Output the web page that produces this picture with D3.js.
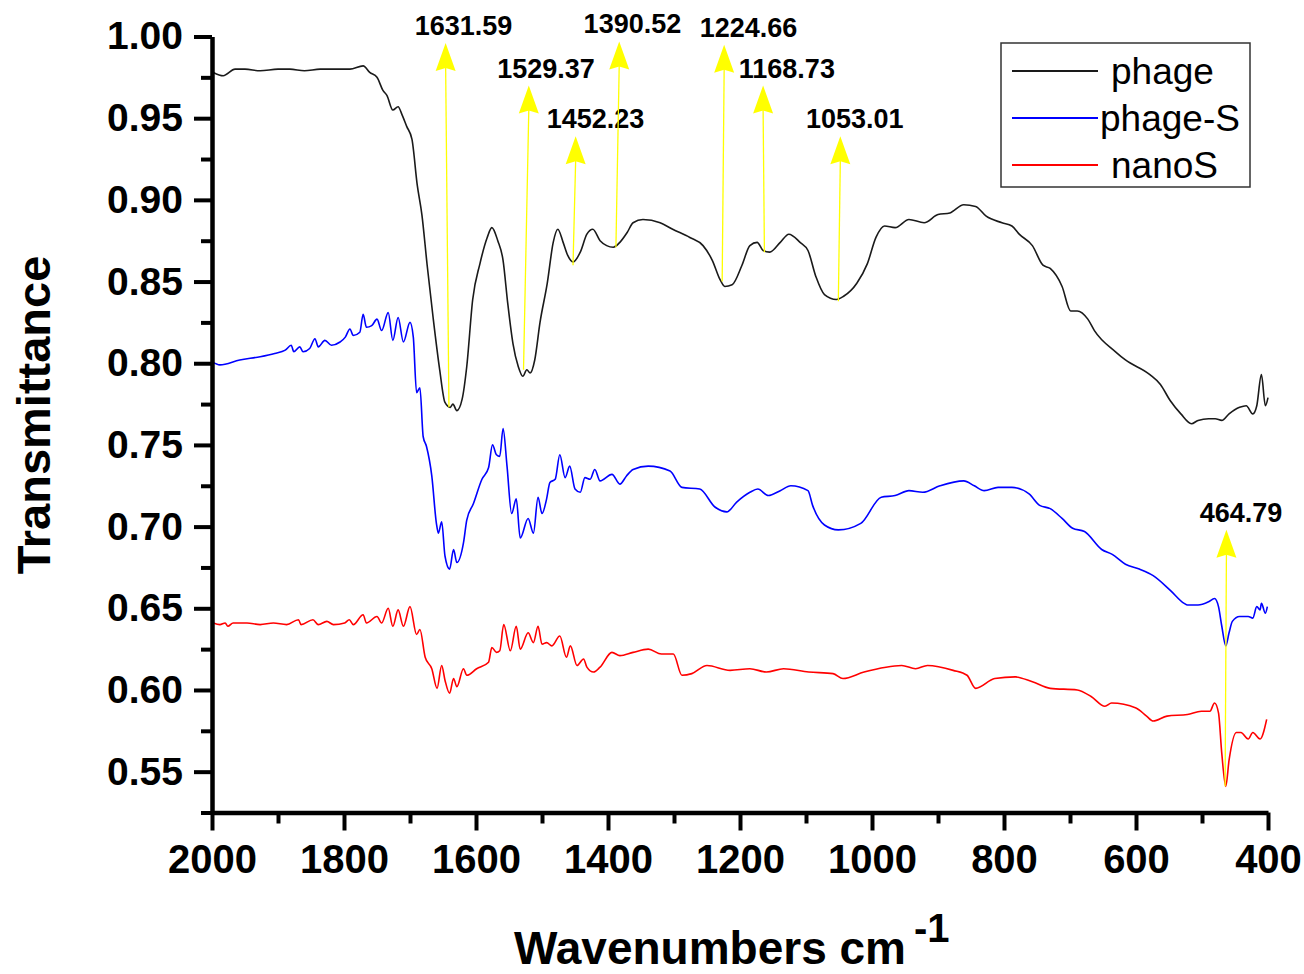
<!DOCTYPE html>
<html>
<head>
<meta charset="utf-8">
<title>FTIR spectra</title>
<style>
body { margin: 0; background: #fff; }
text { font-family: Arial, "Liberation Sans", sans-serif; }
path.curve { fill: none; stroke-width: 1.6px; }
.axis path, .axis line { stroke: #000; }
</style>
</head>
<body>
<script src="https://cdn.jsdelivr.net/npm/d3@7"></script>
<script>

// wavenumber (cm-1), transmittance
var phage = [[1998,0.978],[1983,0.976],[1965,0.980],[1950,0.980],[1927,0.979],[1900,0.980],[1882,0.980],[1860,0.979],[1836,0.980],[1810,0.980],[1791,0.980],[1771,0.982],[1761,0.978],[1750,0.975],[1741,0.967],[1735,0.964],[1726,0.955],[1718,0.957],[1712,0.952],[1705,0.945],[1697,0.937],[1689,0.909],[1682,0.891],[1674,0.860],[1665,0.828],[1655,0.796],[1647,0.776],[1639,0.773],[1635,0.775],[1629,0.771],[1621,0.778],[1614,0.798],[1605,0.839],[1594,0.861],[1583,0.877],[1576,0.883],[1567,0.875],[1559,0.863],[1552,0.837],[1544,0.812],[1536,0.798],[1529,0.792],[1523,0.796],[1518,0.794],[1511,0.802],[1503,0.825],[1492,0.849],[1483,0.874],[1476,0.882],[1468,0.874],[1461,0.866],[1453,0.862],[1442,0.868],[1432,0.879],[1423,0.882],[1412,0.875],[1402,0.872],[1392,0.871],[1382,0.874],[1371,0.880],[1362,0.886],[1347,0.888],[1321,0.886],[1302,0.882],[1276,0.877],[1256,0.872],[1242,0.863],[1230,0.851],[1223,0.847],[1212,0.848],[1197,0.860],[1185,0.872],[1174,0.874],[1165,0.869],[1155,0.868],[1139,0.874],[1126,0.879],[1109,0.874],[1097,0.869],[1085,0.853],[1072,0.842],[1054,0.839],[1043,0.841],[1023,0.849],[1007,0.861],[994,0.877],[981,0.884],[965,0.883],[944,0.888],[921,0.886],[900,0.891],[882,0.892],[861,0.897],[843,0.896],[827,0.890],[803,0.886],[788,0.884],[777,0.879],[757,0.872],[741,0.860],[730,0.858],[712,0.847],[699,0.832],[689,0.832],[673,0.827],[663,0.820],[631,0.807],[616,0.802],[579,0.793],[563,0.787],[548,0.777],[532,0.769],[516,0.763],[506,0.765],[490,0.766],[480,0.766],[470,0.765],[459,0.769],[443,0.773],[433,0.774],[423,0.769],[417,0.774],[410,0.793],[404,0.774],[400,0.779]];

var phageS = [[2000,0.801],[1988,0.799],[1958,0.802],[1927,0.804],[1905,0.806],[1889,0.808],[1880,0.811],[1876,0.807],[1867,0.810],[1862,0.807],[1852,0.809],[1844,0.815],[1839,0.810],[1829,0.814],[1819,0.811],[1806,0.813],[1798,0.816],[1791,0.821],[1786,0.817],[1776,0.819],[1771,0.830],[1766,0.822],[1758,0.823],[1750,0.827],[1743,0.820],[1733,0.831],[1726,0.814],[1718,0.828],[1710,0.813],[1700,0.825],[1695,0.816],[1690,0.782],[1685,0.785],[1680,0.755],[1675,0.749],[1667,0.731],[1660,0.702],[1657,0.696],[1652,0.703],[1647,0.682],[1640,0.674],[1634,0.686],[1629,0.678],[1619,0.690],[1614,0.704],[1604,0.714],[1591,0.729],[1581,0.736],[1575,0.750],[1569,0.744],[1564,0.743],[1559,0.760],[1553,0.737],[1546,0.708],[1539,0.717],[1533,0.693],[1521,0.705],[1513,0.696],[1506,0.718],[1500,0.708],[1493,0.717],[1488,0.727],[1480,0.729],[1473,0.744],[1465,0.730],[1458,0.737],[1450,0.723],[1442,0.721],[1435,0.730],[1427,0.729],[1420,0.735],[1412,0.728],[1394,0.732],[1382,0.726],[1372,0.731],[1362,0.735],[1339,0.737],[1306,0.734],[1288,0.724],[1261,0.723],[1238,0.712],[1220,0.709],[1205,0.715],[1185,0.721],[1173,0.723],[1157,0.719],[1139,0.722],[1123,0.725],[1097,0.722],[1090,0.713],[1072,0.701],[1051,0.698],[1017,0.702],[986,0.718],[965,0.719],[944,0.722],[923,0.721],[897,0.725],[861,0.728],[845,0.725],[830,0.722],[809,0.724],[788,0.724],[762,0.720],[746,0.713],[730,0.711],[712,0.705],[696,0.699],[678,0.697],[652,0.686],[636,0.683],[616,0.677],[595,0.674],[574,0.670],[548,0.661],[527,0.653],[522,0.652],[506,0.652],[490,0.654],[481,0.656],[475,0.651],[470,0.639],[464,0.627],[459,0.635],[454,0.642],[443,0.645],[430,0.645],[423,0.644],[417,0.651],[412,0.649],[410,0.653],[404,0.647],[401,0.651]];

var nanoS = [[1998,0.641],[1988,0.640],[1980,0.641],[1976,0.639],[1968,0.641],[1947,0.641],[1927,0.640],[1907,0.641],[1887,0.640],[1869,0.643],[1865,0.640],[1847,0.643],[1839,0.640],[1826,0.642],[1816,0.640],[1799,0.641],[1792,0.643],[1786,0.640],[1771,0.646],[1766,0.641],[1750,0.645],[1743,0.641],[1733,0.650],[1726,0.639],[1718,0.649],[1710,0.639],[1700,0.651],[1690,0.634],[1685,0.637],[1677,0.620],[1667,0.613],[1659,0.601],[1652,0.615],[1647,0.606],[1640,0.598],[1634,0.607],[1629,0.602],[1619,0.613],[1614,0.609],[1599,0.613],[1581,0.617],[1576,0.626],[1569,0.623],[1564,0.624],[1558,0.640],[1548,0.624],[1539,0.639],[1533,0.625],[1521,0.635],[1513,0.629],[1506,0.639],[1500,0.628],[1493,0.629],[1485,0.627],[1473,0.633],[1463,0.620],[1457,0.627],[1447,0.615],[1437,0.619],[1432,0.614],[1422,0.611],[1412,0.614],[1394,0.623],[1382,0.621],[1362,0.623],[1339,0.625],[1319,0.622],[1301,0.622],[1288,0.609],[1273,0.610],[1250,0.615],[1215,0.612],[1185,0.613],[1160,0.611],[1134,0.613],[1096,0.611],[1059,0.610],[1044,0.607],[1012,0.611],[955,0.615],[934,0.613],[916,0.615],[877,0.612],[856,0.609],[843,0.601],[814,0.607],[783,0.608],[757,0.605],[730,0.601],[689,0.600],[668,0.596],[647,0.590],[637,0.592],[600,0.589],[584,0.584],[574,0.581],[553,0.584],[522,0.585],[501,0.587],[488,0.587],[481,0.592],[475,0.586],[470,0.561],[464,0.541],[459,0.557],[448,0.574],[441,0.574],[430,0.570],[423,0.574],[412,0.570],[402,0.582]];

var seriesNames = ["phage", "phage-S", "nanoS"];
var seriesColors = ["#1a1a1a", "#0000ff", "#ff0000"];

var xTicks = [2000, 1800, 1600, 1400, 1200, 1000, 800, 600, 400];
var yTicks = [0.55, 0.60, 0.65, 0.70, 0.75, 0.80, 0.85, 0.90, 0.95, 1.00];

// peak annotations (yellow arrows)
var peakLabels = ["1631.59", "1529.37", "1452.23", "1390.52", "1224.66", "1168.73", "1053.01", "464.79"];
var arrowBaseWn = [1641, 1528, 1453, 1388, 1227, 1163, 1051, 465];
var arrowBaseVal = [0.773, 0.796, 0.860, 0.871, 0.850, 0.868, 0.838, 0.541];
var arrowTipWn = [1646, 1520, 1449, 1383, 1224, 1165, 1048, 463];
var arrowTipVal = [0.996, 0.970, 0.939, 0.997, 0.995, 0.970, 0.939, 0.698];
var labelWn = [1619, 1494, 1419, 1363, 1187, 1129, 1026, 441];

var width = 1304,
    height = 974;

var x = d3.scaleLinear().domain([2000, 400]).range([212, 1268]);
var y = d3.scaleLinear().domain([0.525, 1.0]).range([812.5, 36.5]);

var svg = d3.select("body").append("svg")
    .attr("width", width)
    .attr("height", height);

var line = d3.line()
    .x(function(d) { return x(d[0]); })
    .y(function(d) { return y(d[1]); })
    .curve(d3.curveMonotoneX);

// curves
[phage, phageS, nanoS].forEach(function(s, i) {
  svg.append("path")
      .datum(s)
      .attr("class", "curve")
      .attr("d", line)
      .style("stroke", seriesColors[i]);
});

// minor ticks
var xMinor = d3.range(1900, 400, -200);
var yMinor = d3.range(0.525, 1.0, 0.05);

svg.append("g")
    .attr("class", "axis")
    .attr("transform", "translate(0," + y(0.525) + ")")
    .call(d3.axisBottom(x).tickValues(xMinor).tickSize(11).tickSizeOuter(0).tickFormat(""))
    .call(function(g) { g.select(".domain").remove(); g.selectAll("line").style("stroke-width", "4px"); });

svg.append("g")
    .attr("class", "axis")
    .attr("transform", "translate(" + x(2000) + ",0)")
    .call(d3.axisLeft(y).tickValues(yMinor).tickSize(11).tickSizeOuter(0).tickFormat(""))
    .call(function(g) { g.select(".domain").remove(); g.selectAll("line").style("stroke-width", "4px"); });

// major axes
var xAxis = svg.append("g")
    .attr("class", "axis")
    .attr("transform", "translate(0," + y(0.525) + ")")
    .call(d3.axisBottom(x).tickValues(xTicks).tickSize(18).tickSizeOuter(0).tickPadding(14).tickFormat(d3.format("d")));

xAxis.select(".domain").style("stroke-width", "4.5px");
xAxis.selectAll("line").style("stroke-width", "4px");
xAxis.selectAll("text")
    .style("font-size", "40px")
    .style("font-weight", "bold")
    .style("fill", "#000");

var yAxis = svg.append("g")
    .attr("class", "axis")
    .attr("transform", "translate(" + x(2000) + ",0)")
    .call(d3.axisLeft(y).tickValues(yTicks).tickSize(18).tickSizeOuter(0).tickPadding(11).tickFormat(d3.format(".2f")));

yAxis.select(".domain").style("stroke-width", "4.5px");
yAxis.selectAll("line").style("stroke-width", "4px");
yAxis.selectAll("text")
    .style("font-size", "39px")
    .style("font-weight", "bold")
    .style("fill", "#000");

// axis titles
svg.append("text")
    .attr("transform", "translate(50,415) rotate(-90)")
    .attr("text-anchor", "middle")
    .style("font-size", "47px")
    .style("font-weight", "bold")
    .text("Transmittance");

var xt = svg.append("text")
    .attr("x", 514)
    .attr("y", 964)
    .style("font-size", "46px")
    .style("font-weight", "bold");
xt.append("tspan").text("Wavenumbers cm");
xt.append("tspan")
    .attr("dx", 8)
    .attr("dy", -22)
    .style("font-size", "40px")
    .text("-1");

// annotations
var ann = svg.append("g");
peakLabels.forEach(function(lab, i) {
  var tx = x(arrowTipWn[i]),
      ty = y(arrowTipVal[i]);
  ann.append("line")
      .attr("x1", tx)
      .attr("y1", ty + 24)
      .attr("x2", x(arrowBaseWn[i]))
      .attr("y2", y(arrowBaseVal[i]))
      .style("stroke", "#ffff00")
      .style("stroke-width", 1.3);
  ann.append("path")
      .attr("d", "M" + tx + "," + ty + "L" + (tx + 10) + "," + (ty + 28) +
                 "L" + tx + "," + (ty + 25) + "L" + (tx - 10) + "," + (ty + 28) + "Z")
      .style("fill", "#ffff00");
  ann.append("text")
      .attr("x", x(labelWn[i]))
      .attr("y", ty - 8)
      .attr("text-anchor", "middle")
      .style("font-size", "27px")
      .style("font-weight", "bold")
      .text(lab);
});

// legend
var legend = svg.append("g");
legend.append("rect")
    .attr("x", 1001)
    .attr("y", 43)
    .attr("width", 249)
    .attr("height", 144)
    .style("fill", "#fff")
    .style("stroke", "#333")
    .style("stroke-width", 1.5);

var legendTextX = [1111, 1100, 1111];
seriesNames.forEach(function(name, i) {
  var ly = 71 + i * 47;
  legend.append("line")
      .attr("x1", 1012)
      .attr("x2", 1098)
      .attr("y1", ly)
      .attr("y2", ly)
      .style("stroke", seriesColors[i])
      .style("stroke-width", 1.8);
  legend.append("text")
      .attr("x", legendTextX[i])
      .attr("y", ly + 13)
      .style("font-size", "37px")
      .text(name);
});

</script>
</body>
</html>
